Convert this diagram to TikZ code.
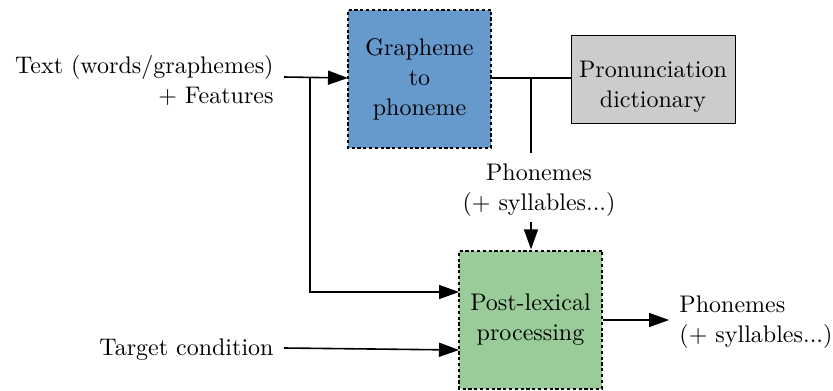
\documentclass[tikz,border=0pt]{standalone}
\usetikzlibrary{arrows.meta,shapes.geometric}
\definecolor{blueb}{HTML}{6699CC}
\definecolor{greenb}{HTML}{99CC99}
\tikzset{
  txt/.style={transform shape,scale=1.2,inner sep=0pt,font=\fontsize{10}{12.5}\selectfont},
  lbl/.style={txt,align=center},
  lblr/.style={txt,align=right},
  lbll/.style={txt,align=left},
  proc/.style={txt,draw=black,line width=1pt,dash pattern=on 1.6pt off 1.3pt,minimum width=59.5pt,minimum height=57.5pt,align=center},
  conn/.style={line width=0.8pt},
  arr/.style={conn,-{Triangle[length=10pt,width=7pt]}},
}
\begin{document}
\begin{tikzpicture}[x=0.5pt,y=-0.5pt]
\useasboundingbox (0,0) rectangle (833,390);
\node[proc,fill=blueb] (g2p) at (419.5,79) {Grapheme\\to\\phoneme};
\node[proc,fill=greenb] (post) at (530.5,319.5) {Post-lexical\\processing};
\node[draw=black,line width=0.5pt,shape=cylinder,shape border rotate=90,shape aspect=3.6,
  cylinder uses custom fill,cylinder body fill=black!20,cylinder end fill=black!12,
  minimum width=82pt,minimum height=44pt,inner sep=0pt] (dict) at (653,79.5) {};
\node[lbl] (dictt) at (653,87) {Pronunciation\\dictionary};
\node[lblr,anchor=east] (text) at (274,80) {Text (words/graphemes)\\+ Features};
\node[lbl] (ph1) at (539,190) {Phonemes\\(+ syllables...)};
\node[lblr,anchor=east] (target) at (274,350) {Target condition};
\node[lbll,anchor=west] (ph2) at (679,322) {Phonemes\\(+ syllables...)};
\coordinate (in1) at (284,77);
\coordinate (j1) at (310,77.5);
\coordinate (in2) at (284,348);
\coordinate (j2) at (531,78);
\coordinate (end1) at (531,153);
\coordinate (s2) at (531,222);
\coordinate (e3) at (669,320);
\draw[arr] (in1) -- (348,78);
\draw[arr] (j1) |- (459,292);
\draw[conn] (491,78) -- (571,78);
\draw[conn] (j2) -- (end1);
\draw[arr] (s2) -- (post.north -| s2);
\draw[arr] (post.east |- e3) -- (e3);
\draw[arr] (in2) -- (459,350);
\end{tikzpicture}
\end{document}
